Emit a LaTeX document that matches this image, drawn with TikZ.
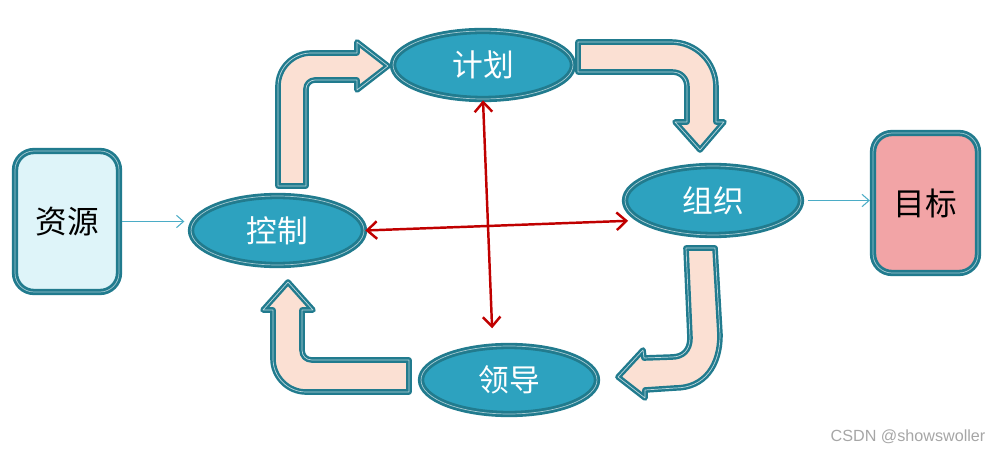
\documentclass[tikz,border=0pt]{standalone}
\usepackage{fontspec}
\setmainfont{Liberation Sans}
\newfontfamily\cjk{Noto Sans CJK SC}
\usepackage{tikz}
\usetikzlibrary{arrows.meta,shapes.geometric}

\definecolor{tealb}{HTML}{217B8E}
\definecolor{ellblue}{HTML}{2DA2BF}
\definecolor{srcfill}{HTML}{DEF4F9}
\definecolor{goalfill}{HTML}{F2A4A6}
\definecolor{peach}{HTML}{FBE0D3}
\definecolor{redline}{HTML}{C00000}
\definecolor{blueline}{HTML}{4BACC6}

\begin{document}
\begin{tikzpicture}[
  x=0.02cm,y=-0.02cm,
  stage/.style={ellipse, draw=tealb, line width=1.6pt, double=white!60!tealb, double distance=0.4pt, fill=ellblue, text=white, inner sep=0pt, font=\cjk\fontsize{17.5}{20}\selectfont},
  endbox/.style={rectangle, rounded corners=0.38cm, draw=tealb, line width=1.6pt, double=white!60!tealb, double distance=0.4pt, inner sep=0pt, font=\cjk\fontsize{18}{20}\selectfont},
  blockarrow/.style={fill=peach, draw=tealb, line width=1.4pt, double=white!70!tealb, double distance=0.4pt, line join=round},
  redarr/.style={{Straight Barb[length=5.5pt,width=10pt]}-{Straight Barb[length=5.5pt,width=10pt]}, draw=redline, line width=1.4pt},
  bluearr/.style={-{Straight Barb[length=4pt,width=7pt]}, draw=blueline, line width=0.6pt}
]
\useasboundingbox (0,0) rectangle (1000,452);

\node[endbox, fill=srcfill, minimum width=2.08cm, minimum height=2.82cm] (source) at (67,221.5) {资源};
\node[endbox, fill=goalfill, minimum width=2.1cm, minimum height=2.8cm] (goal) at (925.5,203) {目标};
\node[stage, minimum width=3.46cm, minimum height=1.38cm] (control) at (277.5,230.5) {控制};
\node[stage, minimum width=3.6cm, minimum height=1.36cm] (plan) at (483,65) {计划};
\node[stage, minimum width=3.52cm, minimum height=1.38cm] (organize) at (713,200.5) {组织};
\node[stage, minimum width=3.52cm, minimum height=1.36cm] (lead) at (509,380) {领导};

% bent block arrows of the cycle
\draw[blockarrow] (278,186) -- (278,86) .. controls (278,68) and (293,53) .. (311,53) -- (357,53) -- (357,42) -- (388,66) -- (357,90) -- (357,80) -- (315,80) .. controls (310,80) and (306,84) .. (306,89) -- (306,186) -- cycle;
\draw[blockarrow] (578,42) -- (671,42) .. controls (696,42) and (716,62) .. (716,87) -- (716,122) -- (724,122) -- (700,150) -- (675,122) -- (687,122) -- (687,87) .. controls (687,78) and (681,72) .. (672,72) -- (578,72) -- cycle;
\draw[blockarrow] (686,248) -- (715,248) -- (720,335) .. controls (720,365) and (705,388) .. (675,388) -- (645,390) -- (645,398) -- (618,377) -- (643,350) -- (644,358) -- (672,357) .. controls (683,357) and (690,350) .. (690,338) -- cycle;
\draw[blockarrow] (409,360) -- (409,392) -- (306,392) .. controls (288,392) and (273,377) .. (273,359) -- (273,310) -- (263,310) -- (288,282) -- (313,310) -- (302,310) -- (302,350) .. controls (302,356) and (306,360) .. (312,360) -- cycle;

% cross links
\draw[redarr, shorten >=6pt] (control.east) -- (organize.195);
\draw[redarr, shorten >=9.6pt] (plan.south) -- (lead.115);

% input and output
\draw[bluearr, shorten <=1pt, shorten >=3pt] (source.east) -- (source.east -| control.west);
\draw[bluearr, shorten <=3pt, shorten >=1pt] (organize.east) -- (organize.east -| goal.west);

\node[text=black!35, font=\fontsize{9.2}{11}\selectfont] (mark) at (908,437) {CSDN @showswoller};
\end{tikzpicture}
\end{document}
